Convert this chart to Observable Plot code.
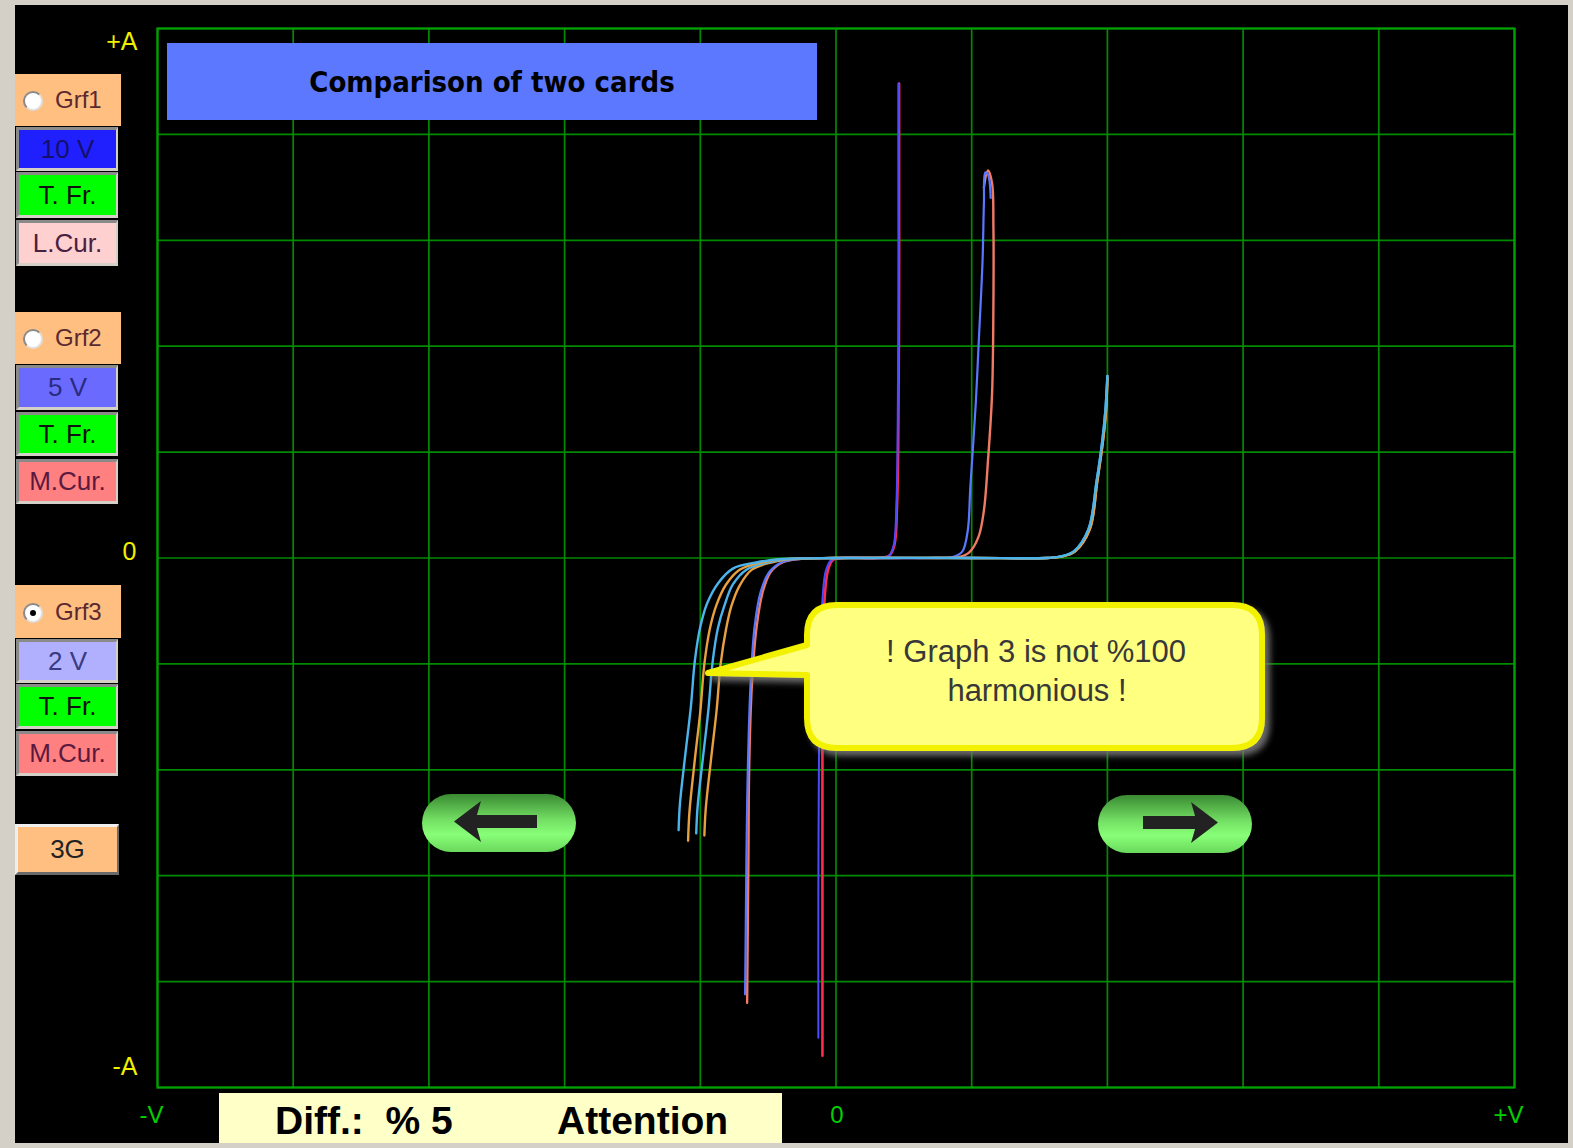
<!DOCTYPE html>
<html>
<head>
<meta charset="utf-8">
<script src="https://cdn.jsdelivr.net/npm/d3@7"></script>
<script src="https://cdn.jsdelivr.net/npm/@observablehq/plot@0.6"></script>
<style>
html,body{margin:0;padding:0;background:#d4d0c8;}
#wrap{position:relative;width:1573px;height:1148px;overflow:hidden;font-family:"Liberation Sans",Arial,sans-serif;}
#panel{position:absolute;left:15px;top:5px;width:1553px;height:1138px;background:#000;}
#chart{position:absolute;left:0;top:0;}
.btn{position:absolute;box-sizing:border-box;display:flex;align-items:center;justify-content:center;font-size:26px;border-style:solid;border-width:3px 2px 3px 3px;border-color:#8a8a8a #d4d0c8 #d4d0c8 #8a8a8a;}
.grf{position:absolute;box-sizing:border-box;background:#ffbf80;font-size:24px;color:#5a2a30;}
.grf span{position:absolute;left:40px;top:50%;transform:translateY(-50%);}
.radio{position:absolute;left:8px;top:50%;width:16px;height:16px;margin-top:-9px;border-radius:50%;background:#fff;border:2px solid #8a8a8a;border-right-color:#e0e0e0;border-bottom-color:#e0e0e0;}
.radio.on::after{content:"";position:absolute;left:5px;top:5px;width:6px;height:6px;border-radius:50%;background:#000;}
#title{position:absolute;left:167px;top:43px;width:650px;height:77px;background:#5b78ff;display:flex;align-items:center;justify-content:center;font-family:"DejaVu Sans Condensed","DejaVu Sans",sans-serif;font-stretch:condensed;font-weight:bold;font-size:29px;color:#000;}
#diff{position:absolute;left:219px;top:1093px;width:563px;height:50px;background:#ffffc8;font-weight:bold;font-size:39px;color:#000;}
#diff span{position:absolute;top:6px;white-space:pre;}
.ov{position:absolute;}
</style>
</head>
<body>
<div id="wrap">
  <div id="panel"></div>
  <div id="chart"></div>
</div>
<script>
// ---- Data (V in grid divisions, I in grid divisions) ----
const gridSteps = [-5,-4,-3,-2,-1,0,1,2,3,4,5];
const xLabelVals = [-5, 0, 5];
const xLabels = ["-V", "0", "+V"];
const yLabelVals = [5, 0, -5];
const yLabels = ["+A", "0", "-A"];

// Graph 1 (red / blue)
const g1RedV = [-0.10,-0.10,-0.10,-0.095,-0.085,-0.06,-0.025,0.05,0.30,0.39,0.43,0.45,0.46,0.465,0.465,0.465];
const g1RedI = [-4.70,-3.2,-1.8,-0.9,-0.4,-0.12,-0.02,0,0,0.02,0.12,0.5,1.3,2.5,3.7,4.48];
const g1BlueV = [-0.13,-0.13,-0.125,-0.115,-0.10,-0.075,-0.035,0.05,0.30,0.39,0.425,0.445,0.455,0.46,0.46,0.46];
const g1BlueI = [-4.53,-3.2,-1.8,-0.9,-0.4,-0.12,-0.02,0,0,0.02,0.12,0.5,1.3,2.5,3.7,4.48];

// Graph 2 (blue / salmon)
const g2BlueV = [-0.67,-0.665,-0.66,-0.65,-0.63,-0.60,-0.555,-0.49,-0.40,-0.28,0,0.70,0.86,0.93,0.97,0.99,1.03,1.05,1.08,1.09,1.10,1.12,1.14];
const g2BlueI = [-4.12,-3.5,-2.8,-2.0,-1.2,-0.65,-0.32,-0.13,-0.04,-0.01,0,0,0.01,0.06,0.25,0.67,1.46,1.99,2.81,3.35,3.64,3.62,3.40];
const g2SalmonV = [-0.655,-0.65,-0.645,-0.64,-0.62,-0.585,-0.54,-0.48,-0.39,-0.27,0,0.75,0.91,0.98,1.05,1.09,1.12,1.15,1.16,1.16,1.15,1.12,1.09];
const g2SalmonI = [-4.20,-3.5,-2.8,-2.0,-1.2,-0.65,-0.32,-0.13,-0.04,-0.01,0,0,0.01,0.05,0.20,0.45,0.92,1.55,2.40,3.12,3.54,3.66,3.50];

// Graph 3 (cyan / orange, two of each)
const g3Cyan1V = [-1.16,-1.15,-1.11,-1.07,-1.04,-1.00,-0.95,-0.87,-0.76,-0.58,-0.40,0,1.00,1.55,1.64,1.75,1.86,1.92,1.96,1.985,2.00];
const g3Cyan1I = [-2.57,-2.32,-1.85,-1.41,-0.97,-0.65,-0.43,-0.24,-0.10,-0.04,-0.01,0,0,0,0.01,0.06,0.27,0.72,1.08,1.39,1.72];
const g3Orange1V = [-1.09,-1.08,-1.04,-1.00,-0.97,-0.93,-0.88,-0.81,-0.71,-0.54,-0.37,0,1.00,1.56,1.65,1.76,1.87,1.925,1.965,1.99,2.00];
const g3Orange1I = [-2.67,-2.40,-1.90,-1.45,-1.00,-0.67,-0.44,-0.25,-0.11,-0.04,-0.01,0,0,0,0.01,0.06,0.27,0.72,1.08,1.39,1.70];
const g3Cyan2V = [-1.03,-1.02,-0.98,-0.94,-0.91,-0.87,-0.82,-0.76,-0.66,-0.50,-0.34,0,1.00,1.55,1.64,1.75,1.86,1.92,1.96,1.985,2.00];
const g3Cyan2I = [-2.60,-2.35,-1.88,-1.43,-0.99,-0.66,-0.44,-0.25,-0.11,-0.04,-0.01,0,0,0,0.01,0.06,0.27,0.72,1.08,1.39,1.72];
const g3Orange2V = [-0.97,-0.96,-0.92,-0.88,-0.85,-0.81,-0.77,-0.71,-0.62,-0.47,-0.32,0,1.00,1.56,1.65,1.76,1.87,1.925,1.965,1.99,2.00];
const g3Orange2I = [-2.62,-2.37,-1.89,-1.44,-1.00,-0.67,-0.45,-0.26,-0.11,-0.04,-0.01,0,0,0,0.01,0.06,0.27,0.72,1.08,1.39,1.70];

const curveNames = ["g1Red","g1Blue","g2Salmon","g2Blue","g3Orange2","g3Cyan2","g3Orange1","g3Cyan1"];
const curveColors = ["#ff2a50","#4a4aff","#f07a64","#5a78ff","#e8a040","#4cb4ec","#e8a040","#4cb4ec"];
const curveWidths = [2.6,2,2.4,2.2,2.4,2.4,2.4,2.4];
const curveV = [g1RedV,g1BlueV,g2SalmonV,g2BlueV,g3Orange2V,g3Cyan2V,g3Orange1V,g3Cyan1V];
const curveI = [g1RedI,g1BlueI,g2SalmonI,g2BlueI,g3Orange2I,g3Cyan2I,g3Orange1I,g3Cyan1I];

const curves = curveNames.map((name, k) => ({
  name, color: curveColors[k], width: curveWidths[k],
  pts: curveV[k].map((v, j) => ({v, i: curveI[k][j]}))
}));

const gridColor = "#008a00";
const lblFont = "Liberation Sans, Arial, sans-serif";
const chart = Plot.plot({
  width: 1573, height: 1148,
  marginLeft: 157, marginRight: 59, marginTop: 28, marginBottom: 61,
  x: {domain: [-5, 5], axis: null},
  y: {domain: [-5, 5], axis: null},
  style: {background: "transparent", overflow: "visible"},
  marks: [
    Plot.ruleX(gridSteps, {stroke: gridColor, strokeWidth: 1.7}),
    Plot.ruleY(gridSteps, {stroke: gridColor, strokeWidth: 1.7}),
    Plot.frame({stroke: "#00a000", strokeWidth: 2.2}),
    ...curves.map(c => Plot.line(c.pts, {x: "v", y: "i", stroke: c.color, strokeWidth: c.width, curve: "catmull-rom"})),
    Plot.text([0], {x: d => xLabelVals[d], text: d => xLabels[d], frameAnchor: "bottom", dy: 35, dx: -6, fill: "#00d000", fontSize: 24, fontFamily: lblFont}),
    Plot.text([1], {x: d => xLabelVals[d], text: d => xLabels[d], frameAnchor: "bottom", dy: 35, dx: 1, fill: "#00d000", fontSize: 24, fontFamily: lblFont}),
    Plot.text([2], {x: d => xLabelVals[d], text: d => xLabels[d], frameAnchor: "bottom", dy: 35, dx: -6, fill: "#00d000", fontSize: 24, fontFamily: lblFont}),
    Plot.text([0], {y: d => yLabelVals[d], text: d => yLabels[d], frameAnchor: "left", textAnchor: "end", dx: -20, dy: 13, fill: "#f0f000", fontSize: 25, fontFamily: lblFont}),
    Plot.text([1], {y: d => yLabelVals[d], text: d => yLabels[d], frameAnchor: "left", textAnchor: "end", dx: -21, dy: -6, fill: "#f0f000", fontSize: 25, fontFamily: lblFont}),
    Plot.text([2], {y: d => yLabelVals[d], text: d => yLabels[d], frameAnchor: "left", textAnchor: "end", dx: -20, dy: -21, fill: "#f0f000", fontSize: 25, fontFamily: lblFont})
  ]
});
document.getElementById("chart").appendChild(chart);

// ---- Interface decorations around the chart ----
const wrap = document.getElementById("wrap");
function add(html){ wrap.insertAdjacentHTML("beforeend", html); }

const grfBoxes = [
  {label:"Grf1", top:74, h:52, on:false},
  {label:"Grf2", top:312, h:52, on:false},
  {label:"Grf3", top:585, h:53, on:true}
];
grfBoxes.forEach(g => add(`<div class="grf" style="left:15px;top:${g.top}px;width:106px;height:${g.h}px"><div class="radio${g.on?" on":""}"></div><span>${g.label}</span></div>`));

const btns = [
  {t:"10 V", top:127, h:44, bg:"#2020ff", c:"#14106a"},
  {t:"T. Fr.", top:172, h:46, bg:"#00ff00", c:"#111"},
  {t:"L.Cur.", top:220, h:46, bg:"#ffd0d0", c:"#4a2040"},
  {t:"5 V", top:365, h:45, bg:"#6a6aff", c:"#2a2a80"},
  {t:"T. Fr.", top:412, h:44, bg:"#00ff00", c:"#111"},
  {t:"M.Cur.", top:459, h:45, bg:"#ff8080", c:"#5a1a40"},
  {t:"2 V", top:639, h:44, bg:"#b0b0ff", c:"#3a3a80"},
  {t:"T. Fr.", top:684, h:45, bg:"#00ff00", c:"#111"},
  {t:"M.Cur.", top:731, h:45, bg:"#ff8080", c:"#5a1a40"}
];
btns.forEach(b => add(`<div class="btn" style="left:16px;top:${b.top}px;width:102px;height:${b.h}px;background:${b.bg};color:${b.c}">${b.t}</div>`));
add(`<div class="btn" style="left:15px;top:824px;width:104px;height:51px;background:#ffbf80;color:#222;border-color:#eeeeee #6a6a6a #6a6a6a #eeeeee">3G</div>`);

add(`<div id="title">Comparison of two cards</div>`);

add(`<div id="diff"><span style="left:56px">Diff.:  % 5</span><span style="left:338px">Attention</span></div>`);

// speech bubble
add(`<svg class="ov" style="left:700px;top:598px;overflow:visible" width="580" height="165">
<defs><filter id="sh" x="-10%" y="-10%" width="130%" height="140%"><feDropShadow dx="5" dy="5" stdDeviation="3" flood-color="#777" flood-opacity="0.9"/></filter></defs>
<path d="M137,7 H532 Q562,7 562,37 V120 Q562,150 532,150 H137 Q107,150 107,120 V77 L8,75 L107,47 V37 Q107,7 137,7 Z" fill="#ffff80" stroke="#f2f200" stroke-width="6" stroke-linejoin="round" filter="url(#sh)"/>
<text x="336" y="64" text-anchor="middle" font-family="Liberation Sans, Arial, sans-serif" font-size="31" fill="#383838">! Graph 3 is not %100</text>
<text x="337" y="103" text-anchor="middle" font-family="Liberation Sans, Arial, sans-serif" font-size="31" fill="#383838">harmonious !</text>
</svg>`);

// arrow buttons
function pill(left, top, dir){
  const arrow = dir > 0
    ? `<rect x="46" y="22" width="56" height="13" fill="#222"/><polygon points="94,8 121,28.5 94,49 100,28.5" fill="#222"/>`
    : `<rect x="52" y="22" width="64" height="13" fill="#222"/><polygon points="60,8 33,28.5 60,49 54,28.5" fill="#222"/>`;
  add(`<svg class="ov" style="left:${left}px;top:${top}px" width="156" height="60">
<defs><linearGradient id="pg${left}" x1="0" y1="0" x2="0" y2="1">
<stop offset="0" stop-color="#3a8a32"/><stop offset="0.45" stop-color="#74e064"/><stop offset="0.7" stop-color="#88ff78"/><stop offset="1" stop-color="#6ad85c"/></linearGradient></defs>
<rect x="1" y="1" width="154" height="58" rx="29" fill="url(#pg${left})"/>
${arrow}
</svg>`);
}
pill(421, 793, -1);
pill(1097, 794, 1);
</script>
</body>
</html>
